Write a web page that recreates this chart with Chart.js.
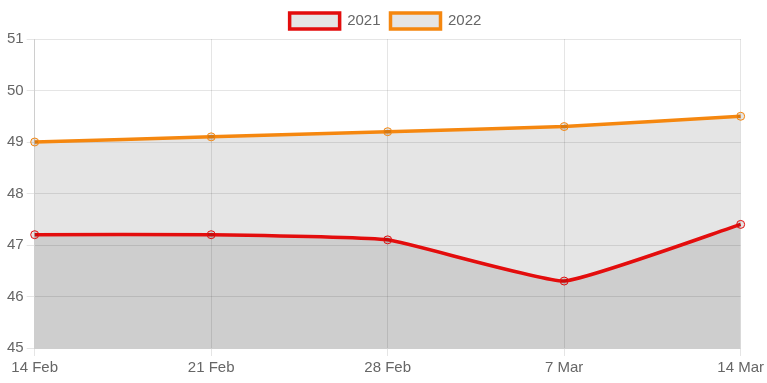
<!DOCTYPE html>
<html>
<head>
<meta charset="utf-8">
<script src="https://cdn.jsdelivr.net/npm/chart.js"></script>
<style>
  html, body { margin: 0; padding: 0; background: #fff; }
  #wrap { width: 767px; height: 383px; }
</style>
</head>
<body>
<div id="wrap"><canvas id="chart"></canvas></div>
<script>
// data
let labels = ['14 Feb', '21 Feb', '28 Feb', '7 Mar', '14 Mar'];
let values2021 = [47.2, 47.2, 47.1, 46.3, 47.4];
let values2022 = [49.0, 49.1, 49.2, 49.3, 49.5];

Chart.defaults.font.family = 'Arial, "Liberation Sans", sans-serif';
Chart.defaults.font.size = 15;
Chart.defaults.color = '#666';

let ctx = document.getElementById('chart').getContext('2d');
new Chart(ctx, {
    type: 'line',
    data: {
        labels: labels,
        datasets: [{
            label: '2021',
            data: values2021,
            borderColor: '#e30d0d',
            backgroundColor: 'rgba(0, 0, 0, 0.1)',
            borderWidth: 3.5,
            pointRadius: 4,
            pointBorderWidth: 1,
            fill: true,
            tension: 0.12
        }, {
            label: '2022',
            data: values2022,
            borderColor: '#f5870f',
            backgroundColor: 'rgba(0, 0, 0, 0.1)',
            borderWidth: 3.5,
            pointRadius: 4,
            pointBorderWidth: 1,
            fill: true,
            tension: 0.12
        }]
    },
    options: {
        responsive: true,
        maintainAspectRatio: false,
        animation: false,
        layout: { padding: { top: 3, left: 4, bottom: 3 } },
        plugins: {
            legend: {
                labels: { boxWidth: 50, boxHeight: 16 }
            },
            tooltip: { enabled: false }
        },
        scales: {
            y: {
                min: 45,
                max: 51,
                ticks: { stepSize: 1 }
            },
            x: {}
        }
    }
});
</script>
</body>
</html>
